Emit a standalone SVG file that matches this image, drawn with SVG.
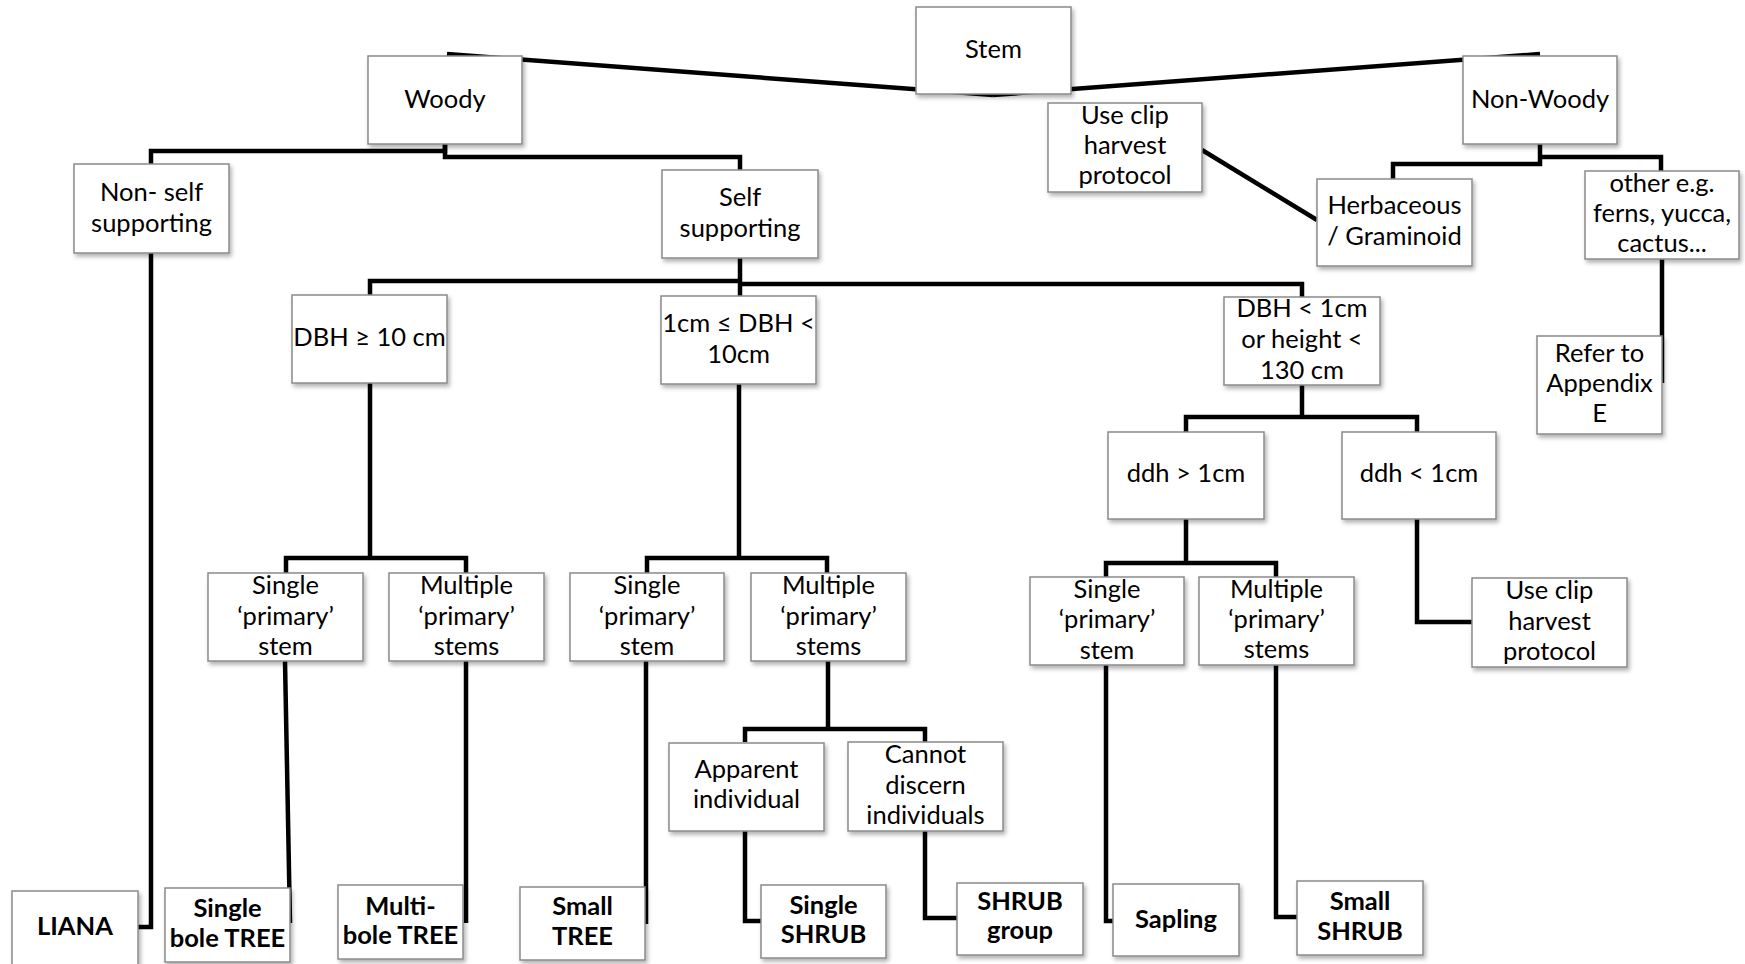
<svg xmlns="http://www.w3.org/2000/svg" width="1745" height="964" viewBox="0 0 1745 964">
<defs>
<filter id="sh" x="-10%" y="-10%" width="130%" height="140%">
<feDropShadow dx="2" dy="3" stdDeviation="2" flood-color="#000" flood-opacity="0.3"/>
</filter>
<style>
.box{fill:#fff;stroke:#8a8a8a;stroke-width:1.5;filter:url(#sh)}
.t{font-family:Lato,"Liberation Sans",sans-serif;font-size:25.5px;fill:#000;text-anchor:middle}
.b{font-weight:bold}
.c{fill:none;stroke:#000;stroke-width:4.5;stroke-linejoin:miter;stroke-linecap:butt}
</style>
</defs>
<rect width="1745" height="964" fill="#fff"/>
<g id="connectors">
<path class="c" d="M993,95 L447,54"/>
<path class="c" d="M993,95 L1540,54"/>
<path class="c" d="M445,144 V151 H151 V164"/>
<path class="c" d="M445,144 V157 H740 V170"/>
<path class="c" d="M151,253 V927 H138"/>
<path class="c" d="M740,258 V296"/>
<path class="c" d="M740,281 H370 V295"/>
<path class="c" d="M740,284 H1302 V297"/>
<path class="c" d="M370,383 V558"/>
<path class="c" d="M286,573 V558 H466 V573"/>
<path class="c" d="M739,384 V558"/>
<path class="c" d="M647,573 V558 H827 V573"/>
<path class="c" d="M1302,385 V417"/>
<path class="c" d="M1186,432 V417 H1417 V432"/>
<path class="c" d="M1186,519 V563"/>
<path class="c" d="M1106,577 V563 H1276 V577"/>
<path class="c" d="M1417,519 V622 H1472"/>
<path class="c" d="M285,661 L290,923"/>
<path class="c" d="M466,661 V923"/>
<path class="c" d="M646,661 V924"/>
<path class="c" d="M828,661 V729"/>
<path class="c" d="M745,742 V729 H925 V742"/>
<path class="c" d="M745,831 V921 H761"/>
<path class="c" d="M925,831 V918 H957"/>
<path class="c" d="M1106,665 V921 H1113"/>
<path class="c" d="M1276,665 V917 H1297"/>
<path class="c" d="M1202,150 L1317,220"/>
<path class="c" d="M1540,144 V164 H1393 V179"/>
<path class="c" d="M1540,157 H1661 V171"/>
<path class="c" d="M1662,259 V383"/>
</g>
<g id="stem"><rect class="box" x="916" y="7" width="155" height="87"/><text class="t" x="993.5" y="58">Stem</text></g>
<g id="woody"><rect class="box" x="368" y="56" width="154" height="88"/><text class="t" x="445" y="108">Woody</text></g>
<g id="nonwoody"><rect class="box" x="1463" y="56" width="154" height="88"/><text class="t" x="1540" y="108">Non-Woody</text></g>
<g id="clip1"><rect class="box" x="1048" y="103" width="154" height="89"/><text class="t" x="1125" y="124">Use clip</text><text class="t" x="1125" y="154">harvest</text><text class="t" x="1125" y="184">protocol</text></g>
<g id="nonself"><rect class="box" x="74" y="164" width="155" height="89"/><text class="t" x="151.5" y="201">Non- self</text><text class="t" x="151.5" y="232">supporting</text></g>
<g id="self"><rect class="box" x="662" y="170" width="156" height="88"/><text class="t" x="740" y="206">Self</text><text class="t" x="740" y="237">supporting</text></g>
<g id="herb"><rect class="box" x="1317" y="179" width="155" height="87"/><text class="t" x="1394.5" y="214">Herbaceous</text><text class="t" x="1394.5" y="245">/ Graminoid</text></g>
<g id="other"><rect class="box" x="1585" y="171" width="154" height="88"/><text class="t" x="1662" y="192">other e.g.</text><text class="t" x="1662" y="222">ferns, yucca,</text><text class="t" x="1662" y="252">cactus...</text></g>
<g id="refer"><rect class="box" x="1537" y="336" width="125" height="98"/><text class="t" x="1599.5" y="362">Refer to</text><text class="t" x="1599.5" y="392">Appendix</text><text class="t" x="1599.5" y="422">E</text></g>
<g id="dbh10"><rect class="box" x="292" y="295" width="155" height="88"/><text class="t" x="369.5" y="346">DBH ≥ 10 cm</text></g>
<g id="dbh1to10"><rect class="box" x="661" y="296" width="155" height="88"/><text class="t" x="738.5" y="332">1cm ≤ DBH &lt;</text><text class="t" x="738.5" y="363">10cm</text></g>
<g id="dbhlt1"><rect class="box" x="1224" y="297" width="156" height="88"/><text class="t" x="1302" y="317">DBH &lt; 1cm</text><text class="t" x="1302" y="348">or height &lt;</text><text class="t" x="1302" y="379">130 cm</text></g>
<g id="ddhgt"><rect class="box" x="1108" y="432" width="156" height="87"/><text class="t" x="1186" y="482">ddh &gt; 1cm</text></g>
<g id="ddhlt"><rect class="box" x="1342" y="432" width="154" height="87"/><text class="t" x="1419" y="482">ddh &lt; 1cm</text></g>
<g id="single1"><rect class="box" x="208" y="573" width="155" height="88"/><text class="t" x="285.5" y="594">Single</text><text class="t" x="285.5" y="625">‘primary’</text><text class="t" x="285.5" y="655">stem</text></g>
<g id="multi1"><rect class="box" x="389" y="573" width="155" height="88"/><text class="t" x="466.5" y="594">Multiple</text><text class="t" x="466.5" y="625">‘primary’</text><text class="t" x="466.5" y="655">stems</text></g>
<g id="single2"><rect class="box" x="570" y="573" width="154" height="88"/><text class="t" x="647" y="594">Single</text><text class="t" x="647" y="625">‘primary’</text><text class="t" x="647" y="655">stem</text></g>
<g id="multi2"><rect class="box" x="751" y="573" width="155" height="88"/><text class="t" x="828.5" y="594">Multiple</text><text class="t" x="828.5" y="625">‘primary’</text><text class="t" x="828.5" y="655">stems</text></g>
<g id="single3"><rect class="box" x="1030" y="577" width="154" height="88"/><text class="t" x="1107" y="598">Single</text><text class="t" x="1107" y="628">‘primary’</text><text class="t" x="1107" y="659">stem</text></g>
<g id="multi3"><rect class="box" x="1199" y="577" width="155" height="88"/><text class="t" x="1276.5" y="598">Multiple</text><text class="t" x="1276.5" y="628">‘primary’</text><text class="t" x="1276.5" y="658">stems</text></g>
<g id="clip2"><rect class="box" x="1472" y="578" width="155" height="89"/><text class="t" x="1549.5" y="599">Use clip</text><text class="t" x="1549.5" y="630">harvest</text><text class="t" x="1549.5" y="660">protocol</text></g>
<g id="apparent"><rect class="box" x="669" y="743" width="155" height="88"/><text class="t" x="746.5" y="778">Apparent</text><text class="t" x="746.5" y="808">individual</text></g>
<g id="cannot"><rect class="box" x="848" y="742" width="155" height="89"/><text class="t" x="925.5" y="763">Cannot</text><text class="t" x="925.5" y="794">discern</text><text class="t" x="925.5" y="824">individuals</text></g>
<g id="liana"><rect class="box" x="12" y="891" width="126" height="80"/><text class="t b" x="75" y="935">LIANA</text></g>
<g id="singlebole"><rect class="box" x="165" y="888" width="125" height="74"/><text class="t b" x="227.5" y="917">Single</text><text class="t b" x="227.5" y="947">bole TREE</text></g>
<g id="multibole"><rect class="box" x="338" y="885" width="125" height="74"/><text class="t b" x="400.5" y="915">Multi-</text><text class="t b" x="400.5" y="944">bole TREE</text></g>
<g id="smalltree"><rect class="box" x="520" y="887" width="125" height="73"/><text class="t b" x="582.5" y="915">Small</text><text class="t b" x="582.5" y="945">TREE</text></g>
<g id="singleshrub"><rect class="box" x="761" y="885" width="125" height="73"/><text class="t b" x="823.5" y="914">Single</text><text class="t b" x="823.5" y="943">SHRUB</text></g>
<g id="shrubgroup"><rect class="box" x="957" y="883" width="126" height="72"/><text class="t b" x="1020" y="910">SHRUB</text><text class="t b" x="1020" y="939">group</text></g>
<g id="sapling"><rect class="box" x="1113" y="884" width="126" height="72"/><text class="t b" x="1176" y="928">Sapling</text></g>
<g id="smallshrub"><rect class="box" x="1297" y="881" width="126" height="74"/><text class="t b" x="1360" y="910">Small</text><text class="t b" x="1360" y="940">SHRUB</text></g>
</svg>
